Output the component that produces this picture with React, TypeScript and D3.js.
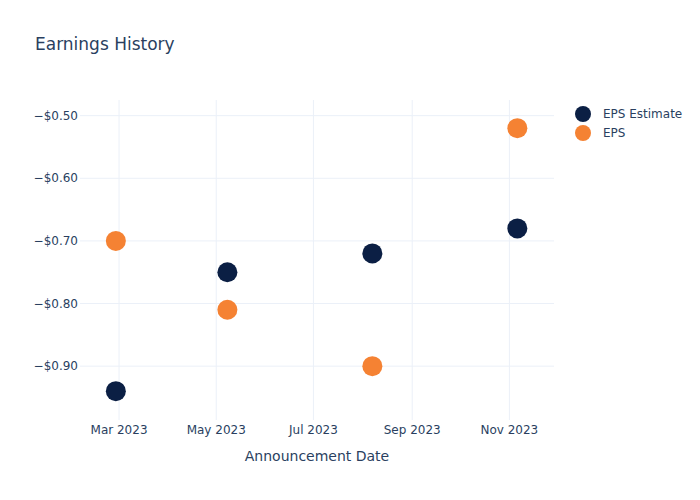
import * as d3 from 'd3';

// announcement dates (UTC)
const dates = ['2023-02-27', '2023-05-08', '2023-08-07', '2023-11-06'];
const epsEstimate = [-0.94, -0.75, -0.72, -0.68];
const epsActual = [-0.70, -0.81, -0.90, -0.52];
const yTicks = [-0.5, -0.6, -0.7, -0.8, -0.9];
const xTicks = ['2023-03-01', '2023-05-01', '2023-07-01', '2023-09-01', '2023-11-01'];

const series = [
  { name: 'EPS Estimate', color: '#0b1f44', values: epsEstimate },
  { name: 'EPS', color: '#f58233', values: epsActual },
];

const W = 700;
const H = 500;
const margin = { top: 100, right: 146, bottom: 80, left: 80 };
const textColor = '#2a3f5f';
const gridColor = '#ebf0f8';
const font = '"DejaVu Sans", Verdana, sans-serif';

const parse = (s: string) => new Date(s + 'T00:00:00Z');

export default function App() {
  const x = d3
    .scaleUtc()
    .domain([new Date(Date.UTC(2023, 1, 4, 12)), new Date(Date.UTC(2023, 10, 29))])
    .range([margin.left, W - margin.right]);
  const y = d3
    .scaleLinear()
    .domain([-0.986, -0.475])
    .range([H - margin.bottom, margin.top]);

  const fmtX = d3.utcFormat('%b %Y');
  const fmtY = (v: number) => '\u2212$' + Math.abs(v).toFixed(2);

  return (
    <svg width={W} height={H} style={{ display: 'block', position: 'absolute', left: 0, top: 0, fontFamily: font }}>
      <rect width={W} height={H} fill="#fff" />
      <text x={35} y={50} fontSize={17} fill={textColor}>
        Earnings History
      </text>

      {/* grid */}
      {xTicks.map((t) => (
        <line key={t} x1={x(parse(t))} x2={x(parse(t))} y1={margin.top} y2={H - margin.bottom} stroke={gridColor} />
      ))}
      {yTicks.map((t) => (
        <line key={t} x1={margin.left} x2={W - margin.right} y1={y(t)} y2={y(t)} stroke={gridColor} />
      ))}

      {/* tick labels */}
      {xTicks.map((t) => (
        <text key={t} x={x(parse(t))} y={H - margin.bottom + 5} dy="0.71em" textAnchor="middle" fontSize={12} fill={textColor}>
          {fmtX(parse(t))}
        </text>
      ))}
      {yTicks.map((t) => (
        <text key={t} x={margin.left - 2} y={y(t)} dy="0.35em" textAnchor="end" fontSize={12} fill={textColor}>
          {fmtY(t)}
        </text>
      ))}

      <text x={(margin.left + W - margin.right) / 2} y={461} textAnchor="middle" fontSize={14} fill={textColor}>
        Announcement Date
      </text>

      {/* points */}
      {series.map((s) =>
        s.values.map((v, i) => (
          <circle key={s.name + i} cx={x(parse(dates[i]))} cy={y(v)} r={10} fill={s.color} />
        ))
      )}

      {/* legend */}
      {series.map((s, i) => (
        <g key={s.name} transform={`translate(583,${114 + i * 19})`}>
          <circle r={8} fill={s.color} />
          <text x={20} dy="0.35em" fontSize={12} fill={textColor}>
            {s.name}
          </text>
        </g>
      ))}
    </svg>
  );
}
